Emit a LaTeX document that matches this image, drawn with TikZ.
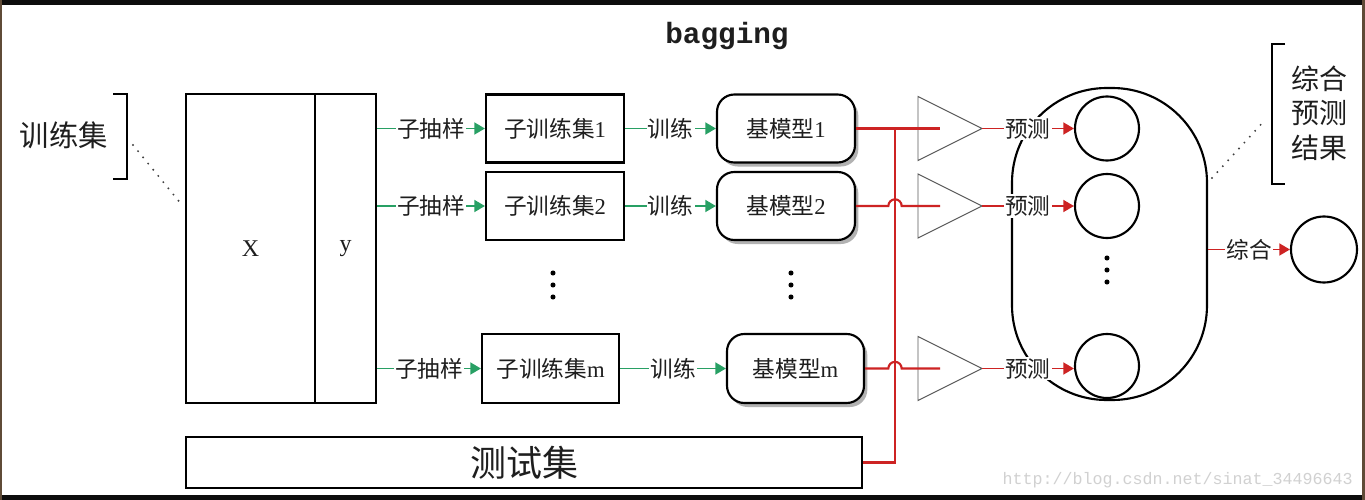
\documentclass[tikz,border=0pt]{standalone}
\usepackage{fontspec}
\setmainfont{Liberation Serif}
\newfontfamily\cjk{Noto Sans CJK SC}
\newfontfamily\monofont{Liberation Mono}
\usetikzlibrary{arrows.meta,shadows}
\definecolor{gline}{RGB}{40,160,100}
\definecolor{rline}{RGB}{205,35,35}
\definecolor{txt}{RGB}{30,30,30}
\definecolor{framec}{RGB}{95,75,55}
\begin{document}
\begin{tikzpicture}[x=0.75pt,y=-0.75pt,
  every node/.style={text=txt},
  sz/.style 2 args={minimum width=#1*0.75pt, minimum height=#2*0.75pt},
  rect/.style={draw=black, line width=1.6pt, inner sep=0pt, fill=white},
  boxfont/.style={font=\fontsize{17}{20}\selectfont},
  model/.style={rect, rounded corners=13pt, drop shadow={shadow xshift=2.5pt, shadow yshift=-3pt, opacity=0.3, fill=black}},
  lbl/.style={font=\cjk\fontsize{17}{20}\selectfont, fill=white, inner sep=1pt},
  garrow/.style={draw=gline, line width=1.4pt, -{Triangle[length=8pt,width=9pt]}},
  rarrow/.style={draw=rline, line width=1.4pt, -{Triangle[length=8pt,width=9pt]}},
  rl/.style={draw=rline, line width=1.6pt},
  tri/.style={draw=black!65, line width=0.7pt},
  circ/.style={draw=black, line width=1.6pt, circle, inner sep=0pt},
  dotline/.style={draw=black!75, line width=1.6pt, dash pattern=on 0pt off 6pt, line cap=round},
  bracket/.style={draw=black, line width=1.6pt},
  vdot/.style={fill=black, circle, inner sep=0pt, minimum size=3.8pt}
]
\useasboundingbox (0,0) rectangle (1365,500);
\fill[white] (0,0) rectangle (1365,500);
% frame
\fill[black!95] (0,0) rectangle (1365,5);
\fill[black!95] (0,495) rectangle (1365,500);
\fill[framec] (0,0) rectangle (2,500);
\fill[framec] (1362,0) rectangle (1365,500);

% title
\node[font=\monofont\bfseries\fontsize{22}{24}\selectfont, anchor=base] (title) at (727,43) {bagging};

% training set label
\node[font=\cjk\fontsize{22}{24}\selectfont] (trainlbl) at (64,135) {训练集};
\draw[bracket] (113,94) -- (127,94) -- (127,179) -- (113,179);
\coordinate (d1) at (133,145);
\coordinate (d2) at (182,205);
\draw[dotline] (d1) -- (d2);

% X y
\node[rect, sz={129}{309}, font=\fontsize{18}{20}\selectfont] (X) at (250.5,248.5) {X};
\node[rect, sz={61}{309}, font=\fontsize{18}{20}\selectfont] (Y) at (345.5,248.5) {y};

% sub training sets
\node[rect, sz={138}{68}, boxfont] (s1) at (555,128.5) {{\cjk 子训练集}1};
\node[rect, sz={138}{68}, boxfont] (s2) at (555,206) {{\cjk 子训练集}2};
\node[rect, sz={137}{69}, boxfont] (sm) at (550.5,368.5) {{\cjk 子训练集}m};

% base models
\node[model, sz={138}{68}, boxfont] (m1) at (786,128.5) {{\cjk 基模型}1};
\node[model, sz={138}{68}, boxfont] (m2) at (786,206) {{\cjk 基模型}2};
\node[model, sz={137}{69}, boxfont] (mm) at (795.5,368.5) {{\cjk 基模型}m};

% test set
\node[rect, sz={676}{51}, font=\cjk\fontsize{27}{30}\selectfont] (test) at (524,462.5) {测试集};

% green arrows
\draw[garrow] (Y.east|-s1) -- node[lbl]{子抽样} (s1.west);
\draw[garrow] (Y.east|-s2) -- node[lbl]{子抽样} (s2.west);
\draw[garrow] (Y.east|-sm) -- node[lbl]{子抽样} (sm.west);
\draw[garrow] (s1.east) -- node[lbl]{训练} (m1.west);
\draw[garrow] (s2.east) -- node[lbl]{训练} (m2.west);
\draw[garrow] (sm.east) -- node[lbl]{训练} (mm.west);

% vertical dots
\foreach \yy in {273,285,297} {
  \node[vdot] (da\yy) at (553,\yy) {};
  \node[vdot] (db\yy) at (791,\yy) {};
}
\foreach \yy in {258,270,282} {
  \node[vdot] (dc\yy) at (1107,\yy) {};
}

% triangles
\coordinate (t1) at (982,128.5);
\coordinate (t2) at (982,206);
\coordinate (t3) at (982,368.5);
\draw[tri] (918,96.5) -- (t1) -- (918,160.5) -- cycle;
\draw[tri] (918,174) -- (t2) -- (918,238) -- cycle;
\draw[tri] (918,336.5) -- (t3) -- (918,400.5) -- cycle;
\coordinate (t1in) at (940,128.5);
\coordinate (t2in) at (940,206);
\coordinate (t3in) at (940,368.5);

% red bus
\coordinate (bus) at (895,128.5);
\coordinate (h2) at (895,206);
\coordinate (h3) at (895,368.5);
\draw[rl] (test.east) -| (bus);
\draw[rl] (m1.east) -- (t1in);
\draw[rl] (m2.east) -- ([xshift=-5pt]h2) arc[start angle=180, end angle=360, radius=6.67] -- (t2in);
\draw[rl] (mm.east) -- ([xshift=-5pt]h3) arc[start angle=180, end angle=360, radius=6.67] -- (t3in);

% ensemble shape
\node[draw=black, line width=1.6pt, rounded corners=71pt, sz={195}{312}, inner sep=0pt] (ens) at (1109.5,244) {};

% prediction circles
\node[circ, minimum size=48pt] (c1) at (1107,128.5) {};
\node[circ, minimum size=48pt] (c2) at (1107,206) {};
\node[circ, minimum size=48pt] (c3) at (1107,366) {};
\node[circ, minimum size=49.5pt] (c4) at (1324,249.5) {};

\draw[rarrow] (t1) -- node[lbl]{预测} (c1.west);
\draw[rarrow] (t2) -- node[lbl]{预测} (c2.west);
\draw[rarrow] (t3) -- node[lbl]{预测} (c3.west|-t3);
\draw[rarrow] (ens.east|-c4) -- node[lbl]{综合} (c4.west);

% result label
\node[font=\cjk\fontsize{21}{26}\selectfont, align=left] (reslbl) at (1319,113) {综合\\预测\\结果};
\draw[bracket] (1285,44) -- (1272,44) -- (1272,184) -- (1285,184);
\coordinate (d3) at (1212,178);
\coordinate (d4) at (1265,120);
\draw[dotline] (d3) -- (d4);

% watermark
\node[font=\monofont\fontsize{12.5}{14}\selectfont, text=black!18, anchor=base east, inner sep=0pt] (wm) at (1353,484) {http://blog.csdn.net/sinat\_34496643};
\end{tikzpicture}
\end{document}
